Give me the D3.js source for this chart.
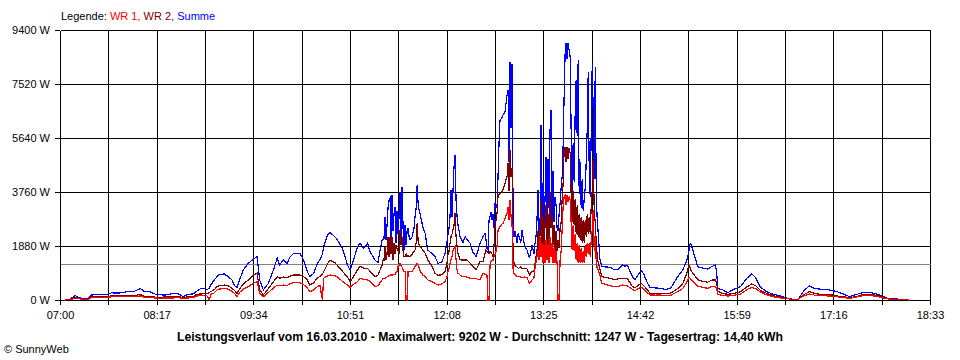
<!DOCTYPE html>
<html><head><meta charset="utf-8">
<script src="https://cdn.jsdelivr.net/npm/d3@7"></script>
<style>
body{margin:0;background:#fff;}
svg{display:block;font-family:"Liberation Sans",Arial,sans-serif;}
text{white-space:pre;}
</style></head><body>
<svg id="chart" width="960" height="360"></svg>
<script>
// ---- data ----
const times = [
"07:04","07:08","07:12","07:14","07:18","07:22","07:25","07:28","07:32","07:37",
"07:41","07:46","07:50","07:54","07:59","08:04","08:07","08:12","08:16","08:20",
"08:24","08:30","08:34","08:38","08:42","08:46","08:49","08:52","08:56","08:57",
"08:59","09:00","09:03","09:05","09:07","09:11","09:14","09:17","09:19","09:21",
"09:23","09:26","09:30","09:34","09:37","09:39","09:42","09:46","09:50","09:53",
"09:55","09:58","10:01","10:03","10:06","10:11","10:14","10:17","10:19","10:22",
"10:25","10:27","10:29","10:30","10:33","10:35","10:39","10:41","10:45","10:49",
"10:51","10:53","10:57","10:59","11:02","11:05","11:07",
"11:10:57","11:13:20","11:14:56","11:16:32","11:17:20","11:18:05","11:18:53","11:19:41","11:20:29","11:21:17",
"11:22:05","11:22:53","11:23:41","11:24:29","11:25:17","11:26:05","11:26:53","11:27:41","11:28:29","11:29:17",
"11:30:05","11:30:53","11:31:41","11:32:29","11:33:17","11:34:05","11:34:53","11:35:41","11:36:29","11:37:17",
"11:38:05","11:38:53","11:40:30","11:42:00","11:42:50","11:43:40","11:44:30","11:45:20","11:46:10","11:47:00",
"11:49:00","11:51:00","11:52:00","11:53:00","11:56:00","11:58:42","12:01:06","12:04:17","12:06:40","12:08:16",
"12:09:04","12:09:52","12:10:40","12:11:28","12:12:16","12:13:04","12:13:52","12:14:40","12:15:28","12:16:16",
"12:17:04","12:18:40","12:21:04","12:22:40","12:24:16","12:26:40","12:29:04","12:31:28","12:34:33","12:36:57",
"12:38:30","12:39:18","12:40:08","12:40:56","12:41:44","12:42:32","12:43:20","12:44:08","12:44:56","12:45:44",
"12:46:32","12:47:20","12:48:06","12:48:54","12:49:42","12:50:30","12:51:18","12:52:06","12:52:54","12:53:42",
"12:54:30","12:55:18","12:56:06","12:56:54","12:57:42","12:58:30","12:59:18","13:00:06","13:00:54","13:01:42",
"13:02:30","13:04:00","13:05:00","13:07:00","13:08:00","13:10:00","13:12:00","13:14:00","13:16:00","13:17:30",
"13:18:22","13:19:10","13:19:57","13:20:45","13:21:33","13:22:21","13:23:09","13:23:57","13:24:45","13:25:33",
"13:26:21","13:27:09","13:27:57","13:28:45","13:29:33","13:30:21","13:31:09","13:31:57","13:32:45","13:33:33",
"13:34:21","13:35:09","13:35:57","13:36:45","13:37:33","13:38:21","13:39:09","13:39:57","13:40:45","13:41:33",
"13:42:21","13:43:09","13:43:57","13:44:45","13:45:33","13:46:21","13:47:09","13:47:57","13:48:45","13:49:33",
"13:50:21","13:51:09","13:51:57","13:52:45","13:53:33","13:54:21","13:55:09","13:55:57","13:56:45","13:57:33",
"13:58:21","13:59:09","13:59:57","14:00:45","14:01:33","14:02:21","14:03:09","14:03:57","14:04:45","14:05:33",
"14:06:21","14:07:09","14:07:57","14:08:45","14:10:00","14:11:30","14:18","14:22","14:25","14:28",
"14:30","14:32","14:36","14:38","14:41","14:43","14:45","14:48","14:50","14:54",
"14:58","15:02","15:06","15:08","15:12","15:16","15:19","15:21","15:22","15:23",
"15:26","15:28","15:32","15:36","15:39","15:42","15:43","15:44","15:48","15:52",
"15:56","16:02","16:07","16:11","16:14","16:18","16:23","16:28","16:34","16:39",
"16:44","16:48","16:49","16:53","16:57","17:01","17:05","17:13","17:19","17:24",
"17:29","17:35","17:40","17:45","17:51","17:55","17:59","18:04","18:09","18:15",
"18:16"
];
const summe = [
0,30,160,110,40,50,170,190,200,190,
250,240,260,290,300,400,300,280,200,180,
170,230,220,120,200,210,310,400,400,350,
420,520,700,810,890,905,810,700,500,430,
700,1045,1275,1425,1510,700,350,580,1045,1450,
1220,1400,1275,1485,1620,1625,1400,985,810,925,
1275,1400,1600,1855,2260,2355,2200,2090,1800,1220,
1045,1275,1855,1975,1800,1975,1680,
1390,1300,1740,2090,2100,2150,2900,2100,2600,3200,
3480,3540,2100,3655,2400,3000,3250,2000,3100,2300,
2900,3715,2200,3945,2500,1740,2600,1900,2400,2500,
2200,2090,2200,2500,2900,3200,4000,3300,3100,2960,
2550,2300,1975,1740,1625,1510,1275,1330,1625,2030,
2300,2500,2900,3830,2900,3830,4640,5050,3500,2900,
2600,2200,2000,2200,2100,1975,1650,1510,1975,2200,
2320,2100,1800,1740,2785,2900,3075,2800,3000,2500,
3365,3200,3250,4290,5450,6265,6300,6350,6440,6500,
6555,6850,7135,7310,4800,8300,6000,8200,3000,2200,
2400,2000,2320,2000,2440,1900,1740,1450,1900,1600,
1975,2200,2800,3830,2200,2400,6090,2800,4060,2600,
3500,4990,2300,4900,3200,5920,6615,2800,4500,2700,
3600,3300,2500,2400,3000,3380,3900,4290,5340,7080,
8600,8940,8400,8940,8700,8470,5920,3480,5450,4100,
6500,7660,5700,8355,3700,4800,3200,4200,3100,3500,
3900,4800,5920,7950,4500,3600,5900,8240,6500,4200,
8125,3600,2800,2300,1450,1160,1140,1045,1080,1220,
1180,1200,810,720,900,1020,900,580,440,420,
410,370,400,520,810,1045,1335,1700,1975,1900,
1450,1160,1110,1080,1160,1220,1000,405,350,255,
360,465,755,905,790,440,290,200,140,60,
25,25,90,350,490,405,380,350,290,210,
115,200,265,265,200,140,60,35,30,30,
0
];
const wr2 = [
0,20,90,70,30,30,110,115,120,120,
140,140,140,150,150,200,130,110,100,90,
110,100,120,90,110,120,200,210,220,220,
260,290,360,460,500,520,500,400,330,230,
380,560,700,870,930,350,175,400,640,810,
760,800,780,830,870,870,820,700,520,600,
760,820,900,985,1250,1390,1300,1200,1000,800,
640,760,1045,1185,1100,1100,1000,
810,870,1045,1200,1390,1390,1855,1390,1600,2200,
1500,2200,1600,2200,1400,2000,1600,1900,1800,1700,
1600,2440,1900,2200,1700,1500,1510,1600,1500,1550,
1500,1510,1600,1700,1740,2000,2670,2000,1900,1855,
1740,1620,1510,1390,1200,930,860,880,1000,1275,
1600,1700,1975,2200,2300,2440,2600,3020,2200,1855,
1600,1400,1390,1390,1390,1280,1160,1050,1335,1335,
1600,1740,1700,1650,1600,1700,1650,1600,1500,1900,
2550,2800,3000,3600,3680,3715,3750,3780,3850,3950,
4050,4200,4290,4760,3800,5220,4300,4600,1500,1275,
1200,1150,1100,1150,1100,1100,1080,870,1000,1000,
1275,1500,1700,2400,1600,2300,3480,1800,2900,1700,
2600,3300,1800,3000,1900,3715,2500,2900,1900,2600,
1700,2400,1700,2100,1800,2500,2700,3480,4060,5220,
5340,4800,5340,4900,5300,5100,3715,2700,3800,2600,
3500,2300,3300,2200,3000,2100,2900,2000,2800,2000,
2800,2200,3000,2300,2900,2300,3300,3830,4990,3100,
2700,2000,1500,1300,1100,810,755,705,740,755,
760,740,465,430,520,580,500,350,230,220,
215,220,230,280,400,560,900,1220,1100,1000,
830,700,650,620,690,700,600,300,220,200,
220,290,450,560,500,330,230,150,100,60,
20,20,80,200,290,230,200,190,140,115,
80,130,190,190,160,115,50,30,25,20,
0
];
const wr1 = [
0,15,60,50,20,20,80,90,90,90,
110,110,110,115,120,140,100,80,70,60,
70,70,80,60,70,80,140,150,150,150,
0,200,250,350,380,405,380,300,230,115,
260,380,465,580,640,230,115,260,420,520,
490,520,500,560,605,605,540,420,290,350,
465,520,0,760,830,870,850,800,650,520,
440,520,640,755,720,700,640,
465,500,600,700,755,755,760,780,800,820,
850,870,870,870,870,880,900,950,985,1160,
1200,1275,1200,1150,1050,1000,1000,0,0,1000,
990,980,1000,1100,1160,1200,1275,1200,1100,1000,
870,810,750,700,640,580,520,560,650,800,
1000,1100,1275,1400,1510,1740,1800,1855,1400,1045,
930,870,810,810,800,760,740,740,700,930,
900,900,850,0,0,1200,1350,1390,1390,1500,
1600,1700,1855,2440,2500,2550,2600,2650,2670,2750,
2850,2950,3020,3250,2800,3480,2900,2600,1100,900,
900,810,810,800,780,800,780,580,700,760,
1100,1300,1500,1740,1400,2200,1500,2000,1300,1900,
1300,2100,1400,1900,1300,2200,1500,2000,1300,1800,
1275,1700,1300,0,0,1390,1700,2440,3250,3600,
3650,3300,3650,3400,3600,3500,2700,1740,2600,1700,
2300,1400,2000,1300,1900,1300,1800,1300,1700,1300,
1900,1500,2000,1600,2000,1500,2100,2440,3130,1700,
2300,1300,1100,1045,870,580,500,465,480,520,
500,490,370,330,400,440,380,250,175,170,
175,150,150,200,290,400,600,790,760,700,
560,485,440,405,470,480,405,200,150,140,
160,200,360,440,400,270,180,115,70,50,
15,15,60,150,210,170,150,140,110,80,
60,110,150,150,130,80,40,20,15,10,
0
];
const seriesNames = ["WR 1", "WR 2", "Summe"];
const yTickValues = [0, 1880, 3760, 5640, 7520, 9400];
const xTickLabels = ["07:00","08:17","09:34","10:51","12:08","13:25","14:42","15:59","17:16","18:33"];
const average = 1247;
const titleText = "Leistungsverlauf vom 16.03.2010 - Maximalwert: 9202 W - Durchschnitt: 1247 W - Tagesertrag: 14,40 kWh";
const copyrightText = "\u00A9 SunnyWeb";

// ---- drawing ----
const toMin = s => { const p = s.split(":").map(Number); return p[0]*60 + p[1] + (p[2] || 0)/60; };
const svg = d3.select("#chart");
const t0 = toMin(xTickLabels[0]), t1 = toMin(xTickLabels[xTickLabels.length-1]);
const x = d3.scaleLinear().domain([t0, t1]).range([60, 930]);
const y = d3.scaleLinear().domain([0, 9400]).range([300, 30]);
const nGrid = (xTickLabels.length - 1) * 2;
const gridT = d3.range(nGrid + 1).map(i => t0 + i * (t1 - t0) / nGrid);

// grid
const grid = svg.append("g").attr("shape-rendering", "crispEdges");
grid.selectAll("line.h").data(yTickValues).join("line")
  .attr("x1", 60.5).attr("x2", 930.5)
  .attr("y1", d => y(d) + 0.5).attr("y2", d => y(d) + 0.5)
  .attr("stroke", "#000");
grid.selectAll("line.v").data(gridT).join("line")
  .attr("x1", d => x(d) + 0.5).attr("x2", d => x(d) + 0.5)
  .attr("y1", 30.5).attr("y2", 300.5)
  .attr("stroke", "#000");

// average line
grid.append("line")
  .attr("x1", 60.5).attr("x2", 930.5)
  .attr("y1", Math.round(y(average)) + 0.5).attr("y2", Math.round(y(average)) + 0.5)
  .attr("stroke", "#808080");

// axes
const xAxis = svg.append("g").attr("transform", "translate(0,300)")
  .call(d3.axisBottom(x).tickValues(gridT).tickSize(5).tickSizeOuter(0).tickPadding(6)
    .tickFormat((d, i) => i % 2 === 0 ? xTickLabels[i / 2] : ""));
const yAxis = svg.append("g").attr("transform", "translate(60,0)")
  .call(d3.axisLeft(y).tickValues(yTickValues).tickSize(5).tickSizeOuter(0).tickPadding(5)
    .tickFormat(d => d + " W"));
[xAxis, yAxis].forEach(g => {
  g.attr("font-family", null).attr("font-size", null).attr("shape-rendering", "crispEdges");
  g.selectAll("text").attr("font-size", "11px").attr("fill", "#000");
  g.selectAll("line,path").attr("stroke", "#000");
});

// series
const rows = times.map((t, i) => ({t: toMin(t), s: summe[i], a: wr1[i], b: wr2[i]}));
const colors = {"WR 1": "#ff0000", "WR 2": "#800000", "Summe": "#0000ff"};
const accessor = {"WR 1": d => d.a, "WR 2": d => d.b, "Summe": d => d.s};
["Summe", "WR 2", "WR 1"].forEach(name => {
  const line = d3.line().x(d => x(d.t)).y(d => y(accessor[name](d)));
  svg.append("path").datum(rows)
    .attr("d", line).attr("fill", "none")
    .attr("stroke", colors[name]).attr("stroke-width", 1.2)
    .attr("shape-rendering", "crispEdges");
});

// legend
const leg = svg.append("text").attr("x", 61).attr("y", 20).attr("font-size", "11px");
leg.append("tspan").attr("fill", "#000").text("Legende: ");
seriesNames.forEach((n, i) => {
  leg.append("tspan").attr("fill", colors[n]).text(n + (i < seriesNames.length - 1 ? ", " : ""));
});

// title & copyright
svg.append("text").attr("x", 480).attr("y", 341).attr("text-anchor", "middle")
  .attr("font-size", "12px").attr("font-weight", "bold")
  .attr("textLength", 606).attr("lengthAdjust", "spacingAndGlyphs").text(titleText);
svg.append("text").attr("x", 4).attr("y", 353).attr("font-size", "11px").text(copyrightText);
</script>
</body></html>
